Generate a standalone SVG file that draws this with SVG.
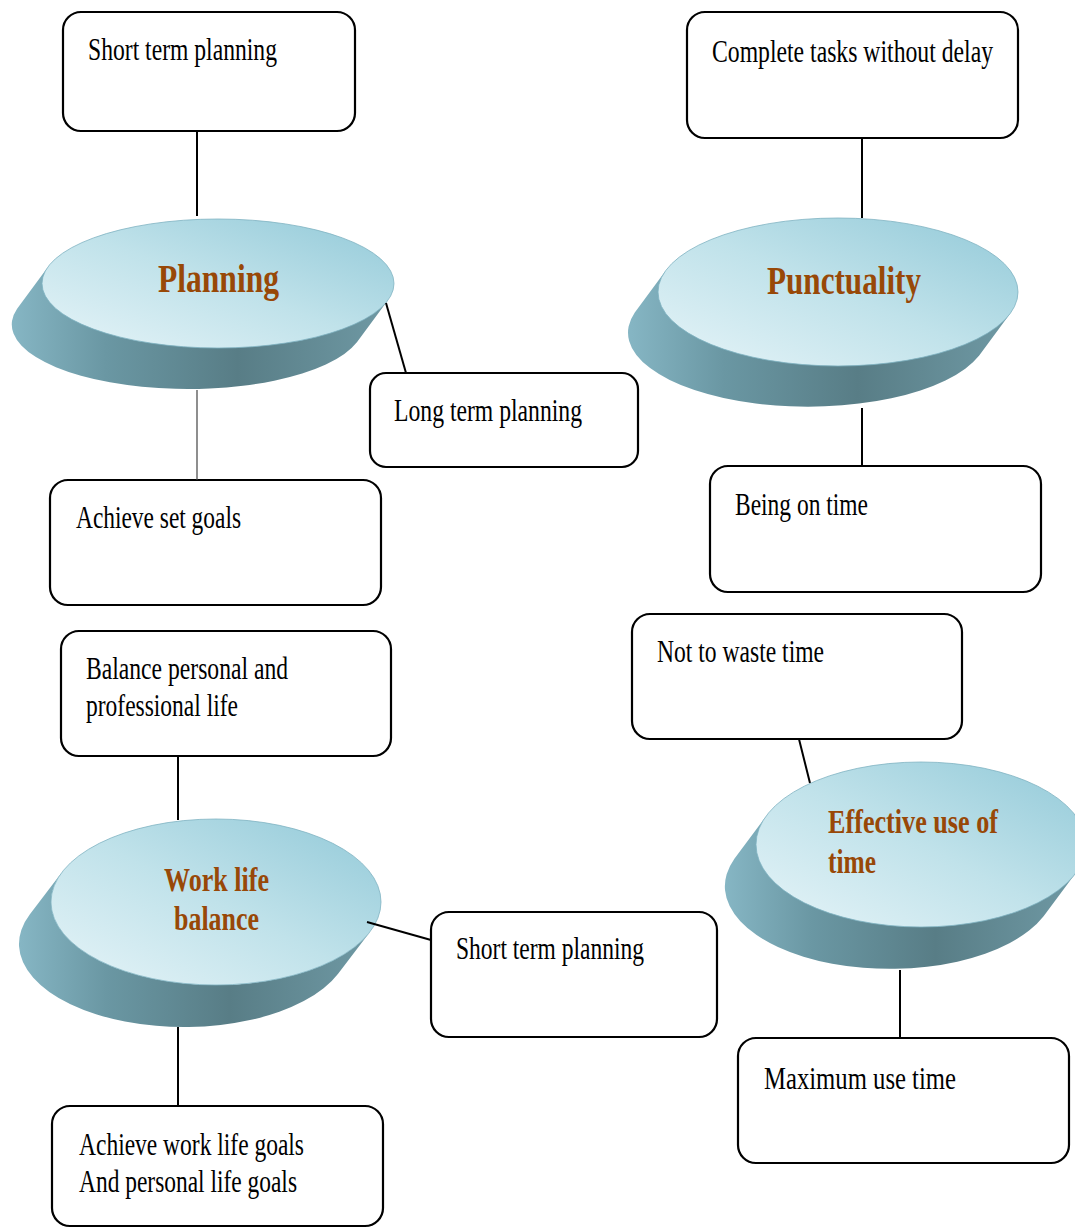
<svg xmlns="http://www.w3.org/2000/svg" width="1075" height="1228" viewBox="0 0 1075 1228">
<defs>
<linearGradient id="topG" x1="0" y1="1" x2="1" y2="0">
<stop offset="0" stop-color="#e6f4f8"/>
<stop offset="0.5" stop-color="#c0e2ea"/>
<stop offset="1" stop-color="#92c9d8"/>
</linearGradient>
<linearGradient id="sideG" x1="0" y1="0" x2="1" y2="0">
<stop offset="0" stop-color="#86b6c4"/>
<stop offset="0.25" stop-color="#6a97a3"/>
<stop offset="0.6" stop-color="#587d86"/>
<stop offset="1" stop-color="#6f99a4"/>
</linearGradient>
<style>
.box{fill:#fff;stroke:#000;stroke-width:2.2}
.t{font-family:"Liberation Serif","Times New Roman",serif;font-size:31px;fill:#000}
.b{font-family:"Liberation Serif","Times New Roman",serif;font-weight:bold;fill:#984807}
.top{fill:url(#topG);stroke:#7fb3c2;stroke-width:0.8}
.side{fill:url(#sideG)}
.c{stroke:#000;stroke-width:2;fill:none}
.cl{stroke:#444;stroke-width:1.2;fill:none}
</style>
</defs>
<rect width="1075" height="1228" fill="#fff"/>

<g id="planning">
<path class="side" d="M48.1,266.7 L17.1,308.7 A176,64.5 0 0 0 356.9,342.3 L387.9,300.3 A176,64.5 0 0 1 48.1,266.7 Z"/>
<ellipse class="top" cx="218" cy="283.5" rx="176" ry="64.5"/>
<text class="b" x="158" y="292" font-size="41" textLength="121" lengthAdjust="spacingAndGlyphs">Planning</text>
</g>

<g id="punctuality">
<path class="side" d="M665.8,270.5 L634.8,312.5 A180,74 0 0 0 979.2,355.5 L1010.2,313.5 A180,74 0 0 1 665.8,270.5 Z"/>
<ellipse class="top" cx="838" cy="292" rx="180" ry="74"/>
<text class="b" x="767" y="294" font-size="41" textLength="154" lengthAdjust="spacingAndGlyphs">Punctuality</text>
</g>

<g id="worklife">
<path class="side" d="M61.9,872.3 L29.9,914.3 A165,83 0 0 0 338.1,973.7 L370.1,931.7 A165,83 0 0 1 61.9,872.3 Z"/>
<ellipse class="top" cx="216" cy="902" rx="165" ry="83"/>
<text class="b" x="164" y="891" font-size="34" textLength="105" lengthAdjust="spacingAndGlyphs">Work life</text>
<text class="b" x="174" y="930" font-size="34" textLength="85" lengthAdjust="spacingAndGlyphs">balance</text>
</g>

<g id="effective">
<path class="side" d="M766.4,815.7 L734.4,858.7 A165,82.5 0 0 0 1043.6,916.3 L1075.6,873.3 A165,82.5 0 0 1 766.4,815.7 Z"/>
<ellipse class="top" cx="921" cy="844.5" rx="165" ry="82.5"/>
<text class="b" x="828" y="833" font-size="33" textLength="170" lengthAdjust="spacingAndGlyphs">Effective use of</text>
<text class="b" x="828" y="873" font-size="33" textLength="48" lengthAdjust="spacingAndGlyphs">time</text>
</g>

<g id="box-short1">
<rect class="box" x="63" y="12" width="292" height="119" rx="18"/>
<text class="t" transform="translate(88,60) scale(0.8,1)" textLength="236.25" lengthAdjust="spacingAndGlyphs">Short term planning</text>
</g>
<g id="box-complete">
<rect class="box" x="687" y="12" width="331" height="126" rx="18"/>
<text class="t" transform="translate(712,62) scale(0.8,1)" textLength="351.25" lengthAdjust="spacingAndGlyphs">Complete tasks without delay</text>
</g>
<g id="box-long">
<rect class="box" x="370" y="373" width="268" height="94" rx="16"/>
<text class="t" transform="translate(394,421) scale(0.8,1)" textLength="235" lengthAdjust="spacingAndGlyphs">Long term planning</text>
</g>
<g id="box-achieve">
<rect class="box" x="50" y="480" width="331" height="125" rx="18"/>
<text class="t" transform="translate(76,528) scale(0.8,1)" textLength="206.25" lengthAdjust="spacingAndGlyphs">Achieve set goals</text>
</g>
<g id="box-beingontime">
<rect class="box" x="710" y="466" width="331" height="126" rx="18"/>
<text class="t" transform="translate(735,515) scale(0.8,1)" textLength="166.25" lengthAdjust="spacingAndGlyphs">Being on time</text>
</g>
<g id="box-balance">
<rect class="box" x="61" y="631" width="330" height="125" rx="18"/>
<text class="t" transform="translate(86,679) scale(0.8,1)" textLength="252.5" lengthAdjust="spacingAndGlyphs">Balance personal and</text>
<text class="t" transform="translate(86,716) scale(0.8,1)" textLength="190" lengthAdjust="spacingAndGlyphs">professional life</text>
</g>
<g id="box-waste">
<rect class="box" x="632" y="614" width="330" height="125" rx="18"/>
<text class="t" transform="translate(657,662) scale(0.8,1)" textLength="208.75" lengthAdjust="spacingAndGlyphs">Not to waste time</text>
</g>
<g id="box-short2">
<rect class="box" x="431" y="912" width="286" height="125" rx="18"/>
<text class="t" transform="translate(456,959) scale(0.8,1)" textLength="235" lengthAdjust="spacingAndGlyphs">Short term planning</text>
</g>
<g id="box-maximum">
<rect class="box" x="738" y="1038" width="331" height="125" rx="18"/>
<text class="t" transform="translate(764,1089) scale(0.8,1)" textLength="240" lengthAdjust="spacingAndGlyphs">Maximum use time</text>
</g>
<g id="box-worklifegoals">
<rect class="box" x="52" y="1106" width="331" height="120" rx="18"/>
<text class="t" transform="translate(79,1155) scale(0.8,1)" textLength="281.25" lengthAdjust="spacingAndGlyphs">Achieve work life goals</text>
<text class="t" transform="translate(79,1192) scale(0.8,1)" textLength="272.5" lengthAdjust="spacingAndGlyphs">And personal life goals</text>
</g>

<g id="connectors">
<line class="c" x1="197" y1="132" x2="197" y2="216"/>
<line class="c" x1="386" y1="303" x2="406" y2="373"/>
<line class="cl" x1="197" y1="390" x2="197" y2="480"/>
<line class="c" x1="862" y1="138" x2="862" y2="218"/>
<line class="c" x1="862" y1="408" x2="862" y2="466"/>
<line class="c" x1="799" y1="739" x2="810" y2="783"/>
<line class="c" x1="900" y1="970" x2="900" y2="1038"/>
<line class="c" x1="178" y1="756" x2="178" y2="820"/>
<line class="c" x1="367" y1="922" x2="431" y2="940"/>
<line class="c" x1="178" y1="1027" x2="178" y2="1106"/>
</g>
</svg>
